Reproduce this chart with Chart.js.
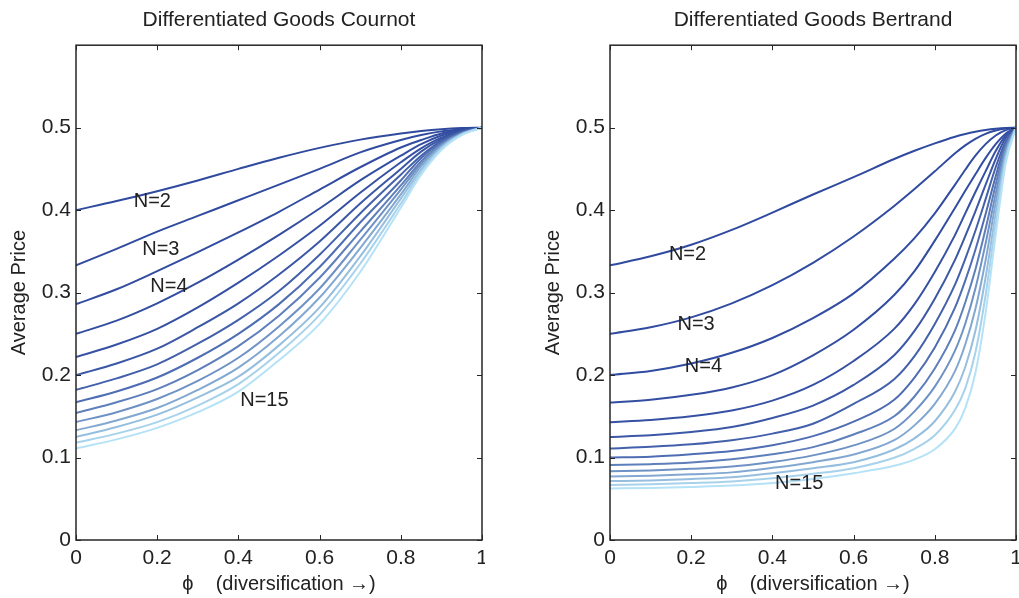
<!DOCTYPE html>
<html>
<head>
<meta charset="utf-8">
<script src="https://cdn.jsdelivr.net/npm/chart.js@4.4.1/dist/chart.umd.min.js"></script>
<style>
  html, body { margin: 0; padding: 0; background: #fff; }
  canvas { position: absolute; top: 0; }
</style>
</head>
<body>
<canvas id="cournot" width="485" height="598" style="left:0px"></canvas>
<canvas id="bertrand" width="485" height="598" style="left:534px"></canvas>
<script>
const seriesNames = ['N=2', 'N=3', 'N=4', 'N=5', 'N=6', 'N=7', 'N=8', 'N=9', 'N=10', 'N=11', 'N=12', 'N=13', 'N=14', 'N=15'];

// Cournot panel
const phiCournot = [0, 0.1, 0.2, 0.3, 0.4, 0.5, 0.6, 0.7, 0.8, 0.85, 0.9, 0.95, 1];
const cournotN2 = [0.400, 0.411, 0.423, 0.436, 0.450, 0.4635, 0.4755, 0.4855, 0.493, 0.496, 0.4982, 0.4995, 0.5];
const cournotN3 = [0.333, 0.353, 0.374, 0.393, 0.412, 0.431, 0.450, 0.470, 0.485, 0.491, 0.4955, 0.498, 0.5];
const cournotN4 = [0.286, 0.304, 0.326, 0.349, 0.373, 0.398, 0.425, 0.452, 0.476, 0.485, 0.493, 0.498, 0.5];
const cournotN5 = [0.250, 0.266, 0.287, 0.312, 0.340, 0.370, 0.402, 0.436, 0.466, 0.480, 0.4905, 0.497, 0.5];
const cournotN6 = [0.222, 0.237, 0.256, 0.282, 0.312, 0.345, 0.381, 0.421, 0.458, 0.475, 0.488, 0.496, 0.5];
const cournotN7 = [0.200, 0.214, 0.232, 0.258, 0.287, 0.322, 0.362, 0.408, 0.450, 0.471, 0.486, 0.4955, 0.5];
const cournotN8 = [0.182, 0.196, 0.213, 0.238, 0.267, 0.302, 0.346, 0.396, 0.443, 0.466, 0.484, 0.495, 0.5];
const cournotN9 = [0.167, 0.180, 0.197, 0.221, 0.250, 0.286, 0.331, 0.385, 0.436, 0.463, 0.482, 0.494, 0.5];
const cournotN10 = [0.154, 0.167, 0.183, 0.206, 0.235, 0.272, 0.318, 0.374, 0.430, 0.459, 0.4805, 0.4935, 0.5];
const cournotN11 = [0.143, 0.155, 0.171, 0.193, 0.221, 0.259, 0.305, 0.364, 0.425, 0.456, 0.479, 0.493, 0.5];
const cournotN12 = [0.133, 0.145, 0.160, 0.182, 0.209, 0.247, 0.294, 0.354, 0.419, 0.453, 0.4775, 0.4925, 0.5];
const cournotN13 = [0.125, 0.137, 0.152, 0.173, 0.198, 0.236, 0.282, 0.344, 0.414, 0.449, 0.476, 0.492, 0.5];
const cournotN14 = [0.118, 0.129, 0.143, 0.163, 0.189, 0.227, 0.273, 0.335, 0.408, 0.446, 0.4745, 0.4915, 0.5];
const cournotN15 = [0.111, 0.122, 0.136, 0.155, 0.180, 0.218, 0.262, 0.325, 0.403, 0.443, 0.473, 0.491, 0.5];

// Bertrand panel
const phiBertrand = [0, 0.1, 0.2, 0.3, 0.4, 0.5, 0.6, 0.7, 0.75, 0.8, 0.85, 0.875, 0.9, 0.925, 0.95, 0.975, 1];
const bertrandN2 = [0.333, 0.344, 0.358, 0.376, 0.397, 0.419, 0.440, 0.462, 0.472, 0.481, 0.489, 0.4923, 0.495, 0.4971, 0.4986, 0.4996, 0.5];
const bertrandN3 = [0.250, 0.258, 0.270, 0.287, 0.309, 0.336, 0.368, 0.405, 0.4255, 0.447, 0.469, 0.4785, 0.4865, 0.4925, 0.4965, 0.499, 0.5];
const bertrandN4 = [0.200, 0.205, 0.214, 0.227, 0.245, 0.269, 0.299, 0.341, 0.366, 0.396, 0.431, 0.449, 0.466, 0.480, 0.4905, 0.497, 0.5];
const bertrandN5 = [0.1667, 0.170, 0.176, 0.185, 0.200, 0.224, 0.255, 0.297, 0.326, 0.363, 0.403, 0.4235, 0.4435, 0.463, 0.480, 0.493, 0.5];
const bertrandN6 = [0.1429, 0.1456, 0.150, 0.157, 0.169, 0.188, 0.217, 0.256, 0.286, 0.325, 0.370, 0.396, 0.422, 0.447, 0.4716, 0.491, 0.5];
const bertrandN7 = [0.125, 0.127, 0.131, 0.137, 0.148, 0.163, 0.188, 0.224, 0.2535, 0.2925, 0.340, 0.3684, 0.3985, 0.4305, 0.462, 0.488, 0.5];
const bertrandN8 = [0.1111, 0.113, 0.116, 0.121, 0.129, 0.141, 0.165, 0.195, 0.223, 0.262, 0.310, 0.341, 0.375, 0.413, 0.452, 0.484, 0.5];
const bertrandN9 = [0.100, 0.101, 0.104, 0.108, 0.115, 0.126, 0.1435, 0.170, 0.197, 0.2335, 0.282, 0.3145, 0.352, 0.395, 0.441, 0.481, 0.5];
const bertrandN10 = [0.0909, 0.092, 0.094, 0.098, 0.104, 0.1126, 0.128, 0.150, 0.174, 0.208, 0.2545, 0.288, 0.328, 0.377, 0.431, 0.478, 0.5];
const bertrandN11 = [0.0833, 0.0844, 0.0863, 0.089, 0.0945, 0.1026, 0.1147, 0.1346, 0.156, 0.186, 0.230, 0.2623, 0.305, 0.3594, 0.420, 0.474, 0.5];
const bertrandN12 = [0.0769, 0.078, 0.0797, 0.082, 0.0875, 0.0944, 0.1036, 0.121, 0.139, 0.165, 0.205, 0.237, 0.280, 0.339, 0.409, 0.470, 0.5];
const bertrandN13 = [0.0714, 0.0723, 0.074, 0.076, 0.081, 0.0871, 0.0943, 0.1097, 0.1233, 0.144, 0.180, 0.2098, 0.2537, 0.318, 0.396, 0.466, 0.5];
const bertrandN14 = [0.0667, 0.0675, 0.069, 0.071, 0.0748, 0.0802, 0.0871, 0.0997, 0.1106, 0.1271, 0.158, 0.1839, 0.2274, 0.2965, 0.3835, 0.462, 0.5];
const bertrandN15 = [0.0625, 0.0632, 0.0644, 0.066, 0.069, 0.074, 0.081, 0.090, 0.0975, 0.110, 0.135, 0.160, 0.2025, 0.275, 0.370, 0.4575, 0.5];

const xTicks = [0, 0.2, 0.4, 0.6, 0.8, 1];
const yTicks = [0, 0.1, 0.2, 0.3, 0.4, 0.5];

// curve labels inside each panel
const curveLabels = ['N=2', 'N=3', 'N=4', 'N=15'];
const cournotLabelPhi = [0.188, 0.209, 0.229, 0.464];
const cournotLabelPrice = [0.411, 0.352, 0.308, 0.169];
const bertrandLabelPhi = [0.191, 0.212, 0.230, 0.466];
const bertrandLabelPrice = [0.346, 0.261, 0.211, 0.068];

const lineColors = ['#2f4a9e', '#304b9f', '#314ca0', '#334ea1', '#3651a3', '#3b57a6', '#4361ab', '#4f6db2',
                    '#5e7fbb', '#6f92c5', '#82a8d2', '#95bedf', '#a7d2ec', '#b5e2f6'];

const fontFamily = "'Liberation Sans', Arial, sans-serif";
const textColor = '#222';

// box round the plot with inward ticks on all four sides, plus the N= labels
const boxPlugin = {
    id: 'boxPlugin',
    afterDatasetsDraw(chart, args, opts) {
        const { ctx, chartArea: a, scales: { x, y } } = chart;
        ctx.save();
        ctx.strokeStyle = '#262626';
        ctx.lineWidth = 1;
        ctx.beginPath();
        xTicks.forEach(v => {
            const px = Math.round(x.getPixelForValue(v)) + 0.5;
            ctx.moveTo(px, a.bottom); ctx.lineTo(px, a.bottom - 5);
            ctx.moveTo(px, a.top); ctx.lineTo(px, a.top + 5);
        });
        yTicks.forEach(v => {
            const py = Math.round(y.getPixelForValue(v)) + 0.5;
            ctx.moveTo(a.left, py); ctx.lineTo(a.left + 5, py);
            ctx.moveTo(a.right, py); ctx.lineTo(a.right - 5, py);
        });
        ctx.stroke();
        ctx.lineWidth = 1.5;
        ctx.strokeRect(a.left, a.top, a.right - a.left, a.bottom - a.top);

        ctx.fillStyle = textColor;
        ctx.font = '20px ' + fontFamily;
        ctx.textAlign = 'center';
        ctx.textBaseline = 'middle';
        curveLabels.forEach((t, i) => {
            ctx.fillText(t, x.getPixelForValue(opts.phi[i]), y.getPixelForValue(opts.price[i]));
        });
        ctx.restore();
    }
};

function makeChart(id, title, phi, series, labelPhi, labelPrice) {
    const datasets = series.map((vals, i) => ({
        label: seriesNames[i],
        data: phi.map((p, k) => ({ x: p, y: vals[k] })),
        borderColor: lineColors[i],
        borderWidth: 2,
        pointRadius: 0,
        cubicInterpolationMode: 'monotone',
        fill: false,
        order: 100 - i
    }));

    new Chart(document.getElementById(id), {
        type: 'line',
        data: { datasets },
        options: {
            responsive: false,
            animation: false,
            layout: { padding: { left: 0, right: 3, top: 0, bottom: 0 } },
            plugins: {
                legend: { display: false },
                tooltip: { enabled: false },
                title: {
                    display: true,
                    text: title,
                    fullSize: false,
                    color: textColor,
                    font: { family: fontFamily, size: 21, weight: 'normal' },
                    padding: { top: 8, bottom: 12 }
                },
                boxPlugin: { phi: labelPhi, price: labelPrice }
            },
            scales: {
                x: {
                    type: 'linear',
                    min: 0,
                    max: 1,
                    afterBuildTicks: s => { s.ticks = xTicks.map(v => ({ value: v })); },
                    afterFit: s => { s.height = 58; s.paddingLeft = 0; s.paddingRight = 0; },
                    grid: { display: false, drawTicks: false },
                    border: { display: false },
                    ticks: {
                        color: textColor,
                        padding: 6,
                        maxRotation: 0,
                        font: { family: fontFamily, size: 21 },
                        callback: v => String(v)
                    },
                    title: {
                        display: true,
                        text: 'ϕ    (diversification →)',
                        color: textColor,
                        font: { family: fontFamily, size: 20 },
                        padding: { top: 0, bottom: 2 }
                    }
                },
                y: {
                    type: 'linear',
                    min: 0,
                    max: 0.6,
                    afterBuildTicks: s => { s.ticks = yTicks.map(v => ({ value: v })); },
                    afterFit: s => { s.width = 76; },
                    grid: { display: false, drawTicks: false },
                    border: { display: false },
                    ticks: {
                        color: textColor,
                        padding: 5,
                        font: { family: fontFamily, size: 21 },
                        callback: v => String(v)
                    },
                    title: {
                        display: true,
                        text: 'Average Price',
                        color: textColor,
                        font: { family: fontFamily, size: 20 },
                        padding: { top: 7, bottom: 0 }
                    }
                }
            }
        },
        plugins: [boxPlugin]
    });
}

makeChart('cournot', 'Differentiated Goods Cournot', phiCournot,
    [cournotN2, cournotN3, cournotN4, cournotN5, cournotN6, cournotN7, cournotN8,
     cournotN9, cournotN10, cournotN11, cournotN12, cournotN13, cournotN14, cournotN15],
    cournotLabelPhi, cournotLabelPrice);

makeChart('bertrand', 'Differentiated Goods Bertrand', phiBertrand,
    [bertrandN2, bertrandN3, bertrandN4, bertrandN5, bertrandN6, bertrandN7, bertrandN8,
     bertrandN9, bertrandN10, bertrandN11, bertrandN12, bertrandN13, bertrandN14, bertrandN15],
    bertrandLabelPhi, bertrandLabelPrice);
</script>
</body>
</html>
